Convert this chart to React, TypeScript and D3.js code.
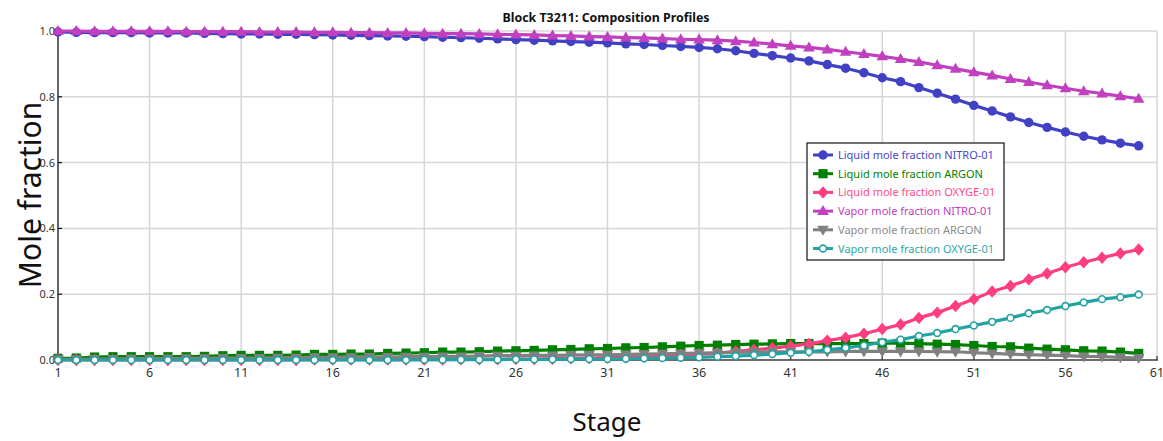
import React from "react";
import * as d3 from "d3";

// Stage numbers 1..60 (column top to bottom)
const stages: number[] = [
  1, 2, 3, 4, 5, 6, 7, 8, 9, 10, 11, 12, 13, 14, 15, 16, 17, 18, 19, 20,
  21, 22, 23, 24, 25, 26, 27, 28, 29, 30, 31, 32, 33, 34, 35, 36, 37, 38, 39, 40,
  41, 42, 43, 44, 45, 46, 47, 48, 49, 50, 51, 52, 53, 54, 55, 56, 57, 58, 59, 60,
];

const liquidNitro: number[] = [
  0.997, 0.996, 0.995, 0.995, 0.995, 0.994, 0.994, 0.994, 0.993, 0.992,
  0.991, 0.991, 0.990, 0.990, 0.989, 0.988, 0.987, 0.986, 0.985, 0.984,
  0.983, 0.981, 0.980, 0.978, 0.976, 0.974, 0.972, 0.970, 0.968, 0.966,
  0.964, 0.961, 0.959, 0.956, 0.953, 0.950, 0.946, 0.940, 0.932, 0.925,
  0.918, 0.909, 0.898, 0.887, 0.873, 0.858, 0.846, 0.828, 0.811, 0.793,
  0.774, 0.757, 0.739, 0.722, 0.707, 0.693, 0.680, 0.669, 0.659, 0.651,
];

const liquidArgon: number[] = [
  0.005, 0.006, 0.009, 0.010, 0.010, 0.010, 0.010, 0.010, 0.011, 0.013,
  0.014, 0.014, 0.014, 0.015, 0.017, 0.017, 0.018, 0.018, 0.020, 0.021,
  0.022, 0.024, 0.024, 0.025, 0.027, 0.028, 0.029, 0.031, 0.032, 0.034,
  0.035, 0.037, 0.038, 0.040, 0.042, 0.044, 0.045, 0.047, 0.048, 0.049,
  0.050, 0.050, 0.050, 0.050, 0.050, 0.051, 0.051, 0.050, 0.048, 0.047,
  0.044, 0.041, 0.040, 0.036, 0.033, 0.031, 0.028, 0.027, 0.024, 0.020,
];

const liquidOxy: number[] = [
  0.000, 0.000, 0.000, 0.000, 0.000, 0.000, 0.000, 0.000, 0.000, 0.000,
  0.000, 0.000, 0.000, 0.000, 0.001, 0.001, 0.001, 0.001, 0.001, 0.001,
  0.001, 0.001, 0.002, 0.002, 0.002, 0.003, 0.003, 0.004, 0.005, 0.006,
  0.007, 0.008, 0.010, 0.012, 0.015, 0.018, 0.021, 0.026, 0.031, 0.036,
  0.042, 0.049, 0.059, 0.068, 0.080, 0.094, 0.108, 0.128, 0.144, 0.164,
  0.185, 0.208, 0.225, 0.245, 0.263, 0.282, 0.297, 0.311, 0.324, 0.336,
];

const vaporNitro: number[] = [
  1.000, 1.000, 0.999, 0.999, 0.999, 0.999, 0.999, 0.998, 0.998, 0.998,
  0.998, 0.997, 0.997, 0.997, 0.996, 0.996, 0.995, 0.995, 0.994, 0.994,
  0.993, 0.992, 0.992, 0.991, 0.990, 0.989, 0.988, 0.986, 0.985, 0.983,
  0.982, 0.980, 0.979, 0.977, 0.975, 0.974, 0.972, 0.969, 0.965, 0.960,
  0.955, 0.950, 0.944, 0.937, 0.930, 0.923, 0.915, 0.906, 0.896, 0.885,
  0.875, 0.865, 0.854, 0.845, 0.835, 0.826, 0.817, 0.810, 0.802, 0.794,
];

const vaporArgon: number[] = [
  0.002, 0.002, 0.003, 0.003, 0.004, 0.004, 0.004, 0.005, 0.005, 0.006,
  0.006, 0.006, 0.007, 0.007, 0.008, 0.008, 0.008, 0.009, 0.009, 0.010,
  0.010, 0.011, 0.011, 0.012, 0.013, 0.013, 0.014, 0.014, 0.015, 0.016,
  0.016, 0.017, 0.018, 0.019, 0.020, 0.021, 0.022, 0.023, 0.024, 0.025,
  0.025, 0.025, 0.025, 0.026, 0.026, 0.026, 0.026, 0.026, 0.025, 0.025,
  0.022, 0.020, 0.018, 0.016, 0.015, 0.013, 0.011, 0.010, 0.008, 0.006,
];

const vaporOxy: number[] = [
  0.000, 0.000, 0.000, 0.000, 0.000, 0.000, 0.000, 0.000, 0.000, 0.000,
  0.000, 0.000, 0.000, 0.000, 0.000, 0.000, 0.000, 0.000, 0.000, 0.000,
  0.001, 0.001, 0.001, 0.001, 0.001, 0.002, 0.002, 0.002, 0.003, 0.003,
  0.003, 0.004, 0.005, 0.006, 0.007, 0.008, 0.010, 0.012, 0.015, 0.018,
  0.022, 0.025, 0.031, 0.037, 0.044, 0.054, 0.062, 0.073, 0.082, 0.094,
  0.105, 0.116, 0.128, 0.142, 0.152, 0.164, 0.175, 0.185, 0.191, 0.199,
];

const xTicks: number[] = [1, 6, 11, 16, 21, 26, 31, 36, 41, 46, 51, 56, 61];
const yTicks: number[] = [0, 0.2, 0.4, 0.6, 0.8, 1.0];
const yTickLabels: string[] = ["0.0", "0.2", "0.4", "0.6", "0.8", "1.0"];

type MarkerKind = "circle" | "square" | "diamond" | "triUp" | "triDown" | "ring";

interface Series {
  name: string;
  values: number[];
  color: string;
  textColor: string;
  marker: MarkerKind;
}

const series: Series[] = [
  { name: "Liquid mole fraction NITRO-01", values: liquidNitro, color: "#4141C4", textColor: "#4747C8", marker: "circle" },
  { name: "Liquid mole fraction ARGON", values: liquidArgon, color: "#008000", textColor: "#008000", marker: "square" },
  { name: "Liquid mole fraction OXYGE-01", values: liquidOxy, color: "#FF3E7E", textColor: "#FF4A86", marker: "diamond" },
  { name: "Vapor mole fraction NITRO-01", values: vaporNitro, color: "#C040C0", textColor: "#C040C0", marker: "triUp" },
  { name: "Vapor mole fraction ARGON", values: vaporArgon, color: "#808080", textColor: "#8A8A8A", marker: "triDown" },
  { name: "Vapor mole fraction OXYGE-01", values: vaporOxy, color: "#22A2A2", textColor: "#2AA8A8", marker: "ring" },
];

const W = 1163;
const H = 441;
const FONT = "'Noto Sans', 'Open Sans', sans-serif";

const x = d3.scaleLinear().domain([1, 61]).range([58, 1157]);
const y = d3.scaleLinear().domain([0, 1]).range([360, 31]);

function Marker({ kind, cx, cy, color }: { kind: MarkerKind; cx: number; cy: number; color: string }) {
  switch (kind) {
    case "circle":
      return <circle cx={cx} cy={cy} r={4.7} fill={color} />;
    case "square":
      return <rect x={cx - 4.6} y={cy - 4.6} width={9.2} height={9.2} fill={color} />;
    case "diamond":
      return (
        <path
          d={`M${cx},${cy - 6.2}L${cx + 5.6},${cy}L${cx},${cy + 6.2}L${cx - 5.6},${cy}Z`}
          fill={color}
        />
      );
    case "triUp":
      return (
        <path
          d={`M${cx},${cy - 6}L${cx + 5.8},${cy + 4}L${cx - 5.8},${cy + 4}Z`}
          fill={color}
        />
      );
    case "triDown":
      return (
        <path
          d={`M${cx},${cy + 6}L${cx + 5.8},${cy - 4}L${cx - 5.8},${cy - 4}Z`}
          fill={color}
        />
      );
    case "ring":
      return <circle cx={cx} cy={cy} r={3.4} fill="#fff" stroke={color} strokeWidth={1.6} />;
  }
}

export default function App() {
  const line = d3
    .line<number>()
    .x((_, i) => x(stages[i]))
    .y((v) => y(v));

  const gridX = xTicks.filter((t) => t > 1);
  const gridY = yTicks.filter((t) => t > 0);

  const legendX = 807;
  const legendY = 143;
  const rowH = 18.7;

  return (
    <svg
      width={W}
      height={H}
      style={{ position: "absolute", left: 0, top: 0, background: "#fff" }}
      fontFamily={FONT}
    >
      {/* grid */}
      {gridX.map((t) => (
        <line key={"gx" + t} x1={x(t)} x2={x(t)} y1={y(1)} y2={y(0)} stroke="#d6d6d6" strokeWidth={1.5} />
      ))}
      {gridY.map((t) => (
        <line key={"gy" + t} x1={x(1)} x2={x(61)} y1={y(t)} y2={y(t)} stroke="#d6d6d6" strokeWidth={1.5} />
      ))}

      {/* axes */}
      <line x1={x(1)} x2={x(1)} y1={y(1) - 1} y2={y(0)} stroke="#111" strokeWidth={1.3} />
      <line x1={x(1)} x2={x(61) + 1} y1={y(0)} y2={y(0)} stroke="#3a3a3a" strokeWidth={1.6} />
      {xTicks.map((t) => (
        <line key={"xt" + t} x1={x(t)} x2={x(t)} y1={y(0)} y2={y(0) - 4} stroke="#3a3a3a" strokeWidth={1.2} />
      ))}
      {yTicks.map((t) => (
        <line key={"yt" + t} x1={x(1)} x2={x(1) + 4} y1={y(t)} y2={y(t)} stroke="#111" strokeWidth={1.2} />
      ))}

      {/* tick labels */}
      {xTicks.map((t) => (
        <text key={"xl" + t} x={x(t)} y={y(0) + 17} fontSize={12.5} fill="#333" textAnchor="middle">
          {t}
        </text>
      ))}
      {yTicks.map((t, i) => (
        <text key={"yl" + t} x={x(1) - 3} y={y(t) + 4} fontSize={11} fill="#333" textAnchor="end">
          {yTickLabels[i]}
        </text>
      ))}

      {/* series */}
      {series.map((s) => (
        <g key={s.name}>
          <path d={line(s.values) ?? ""} fill="none" stroke={s.color} strokeWidth={3.2} strokeLinejoin="round" />
          {s.values.map((v, i) => (
            <Marker key={i} kind={s.marker} cx={x(stages[i])} cy={y(v)} color={s.color} />
          ))}
        </g>
      ))}

      {/* title */}
      <text x={606} y={22} fontSize={12.4} fontWeight="bold" fill="#111" textAnchor="middle">
        Block T3211: Composition Profiles
      </text>

      {/* axis titles */}
      <text
        transform={`translate(41,195) rotate(-90)`}
        fontSize={30}
        fill="#111"
        textAnchor="middle"
      >
        Mole fraction
      </text>
      <text x={607} y={431} fontSize={26} fill="#111" textAnchor="middle">
        Stage
      </text>

      {/* legend */}
      <g>
        <rect x={legendX} y={legendY} width={197} height={117} fill="#fff" stroke="#111" strokeWidth={1.2} />
        {series.map((s, i) => {
          const cy = legendY + 12 + i * rowH;
          return (
            <g key={"lg" + s.name}>
              <line x1={legendX + 6} x2={legendX + 26} y1={cy} y2={cy} stroke={s.color} strokeWidth={3} />
              <Marker kind={s.marker} cx={legendX + 16} cy={cy} color={s.color} />
              <text x={legendX + 31} y={cy + 4} fontSize={11} fill={s.textColor}>
                {s.name}
              </text>
            </g>
          );
        })}
      </g>
    </svg>
  );
}
